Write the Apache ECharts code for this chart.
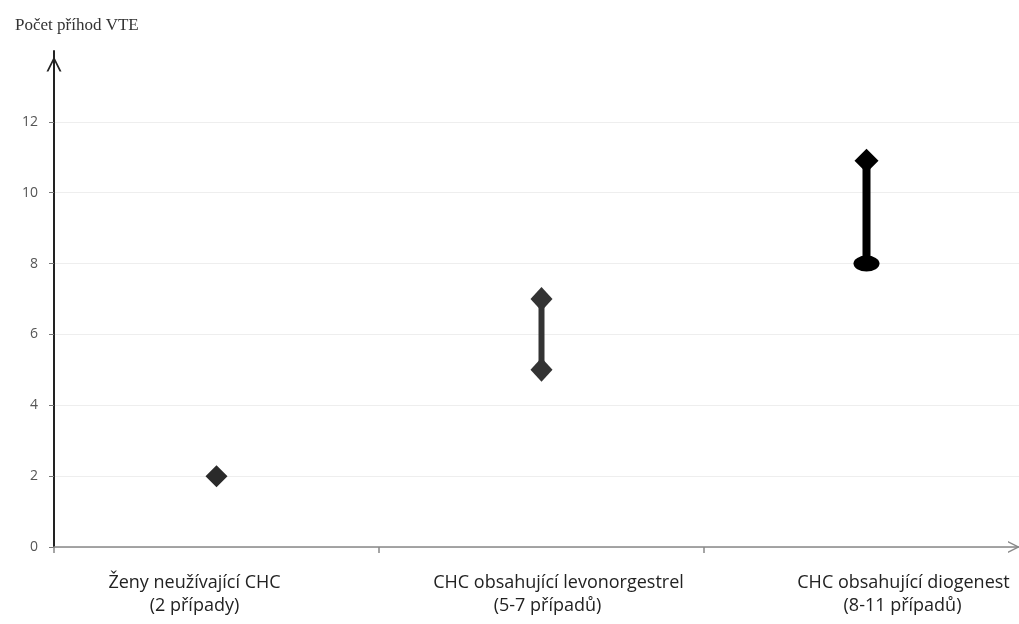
<!DOCTYPE html>
<html>
<head>
<meta charset="utf-8">
<script src="https://cdn.jsdelivr.net/npm/echarts@6/dist/echarts.min.js"></script>
<style>
html,body{margin:0;padding:0;background:#fff;}
#chart{width:1019px;height:624px;}
</style>
</head>
<body>
<div id="chart"></div>
<script>
// ---- data ----
const categories = ['Ženy neužívající CHC', 'CHC obsahující levonorgestrel', 'CHC obsahující diogenest'];
const caseLabels = ['(2 případy)', '(5-7 případů)', '(8-11 případů)'];
const lowValues = [2, 5, 8];
const highValues = [2, 7, 10.9];
const yTicks = [0, 2, 4, 6, 8, 10, 12, 14];
const yLabelTicks = [0, 2, 4, 6, 8, 10, 12];
const yTitle = 'Počet příhod VTE';

const chevron = 'path://M0,14 L7,0 L14,14 L12.2,14 L7,3.6 L1.8,14 Z';
const labelFont = {fontFamily: 'Open Sans', fontSize: 18, color: '#222', lineHeight: 23};

const chart = echarts.init(document.getElementById('chart'), null, {renderer: 'canvas'});

const option = {
  animation: false,
  backgroundColor: '#fff',
  title: {
    text: yTitle,
    left: 10,
    top: 12,
    textStyle: {fontFamily: 'Liberation Serif', fontSize: 17, fontWeight: 'normal', color: '#333'}
  },
  grid: {left: 54, width: 975, top: 51, height: 496, containLabel: false, outerBoundsMode: 'none'},
  xAxis: {
    type: 'category',
    data: categories,
    axisLine: {show: true, lineStyle: {color: '#888', width: 1.5}, symbol: ['none', chevron], symbolSize: [14, 12], symbolOffset: [0, -15]},
    axisTick: {show: true, length: 6, lineStyle: {color: '#888', width: 1.5}},
    axisLabel: {
      interval: 0,
      margin: 24,
      fontFamily: 'Open Sans',
      fontSize: 18,
      color: '#222',
      lineHeight: 23,
      formatter: function (value, idx) {
        return '{l' + idx + '|' + value + '}\n{m' + idx + '|' + caseLabels[idx] + '}';
      },
      rich: {
        l0: Object.assign({padding: [0, 44, 0, 0]}, labelFont),
        m0: Object.assign({padding: [0, 44, 0, 0]}, labelFont),
        l1: Object.assign({padding: [0, 0, 0, 34]}, labelFont),
        m1: Object.assign({padding: [0, 0, 0, 12]}, labelFont),
        l2: Object.assign({padding: [0, 0, 0, 74]}, labelFont),
        m2: Object.assign({padding: [0, 0, 0, 72]}, labelFont)
      }
    },
    splitLine: {show: false}
  },
  yAxis: {
    type: 'value',
    min: yTicks[0],
    max: yTicks[yTicks.length - 1],
    interval: 2,
    axisLine: {show: true, onZero: false, lineStyle: {color: '#222', width: 2}, symbol: ['none', chevron], symbolSize: [15, 18], symbolOffset: [0, -13]},
    axisTick: {show: true, length: 5, customValues: yLabelTicks, lineStyle: {color: '#777', width: 1}},
    axisLabel: {
      margin: 16,
      fontFamily: 'Open Sans',
      fontSize: 14,
      color: '#555',
      customValues: yLabelTicks
    },
    splitLine: {show: true, lineStyle: {color: '#eeeeee', width: 1}}
  },
  series: [
    {
      type: 'scatter',
      symbol: 'diamond',
      symbolSize: [22, 22],
      itemStyle: {color: '#2a2a2a', opacity: 1},
      data: [[categories[0], lowValues[0]]]
    },
    {
      type: 'line',
      symbol: 'diamond',
      symbolSize: [22, 24],
      showAllSymbol: true,
      lineStyle: {color: '#333', width: 6},
      itemStyle: {color: '#333'},
      data: [[categories[1], lowValues[1]], [categories[1], highValues[1]]]
    },
    {
      type: 'line',
      showAllSymbol: true,
      lineStyle: {color: '#000', width: 8},
      itemStyle: {color: '#000'},
      data: [
        {value: [categories[2], lowValues[2]], symbol: 'circle', symbolSize: [26, 16]},
        {value: [categories[2], highValues[2]], symbol: 'diamond', symbolSize: [24, 24]}
      ]
    }
  ]
};
chart.setOption(option);
</script>
</body>
</html>
